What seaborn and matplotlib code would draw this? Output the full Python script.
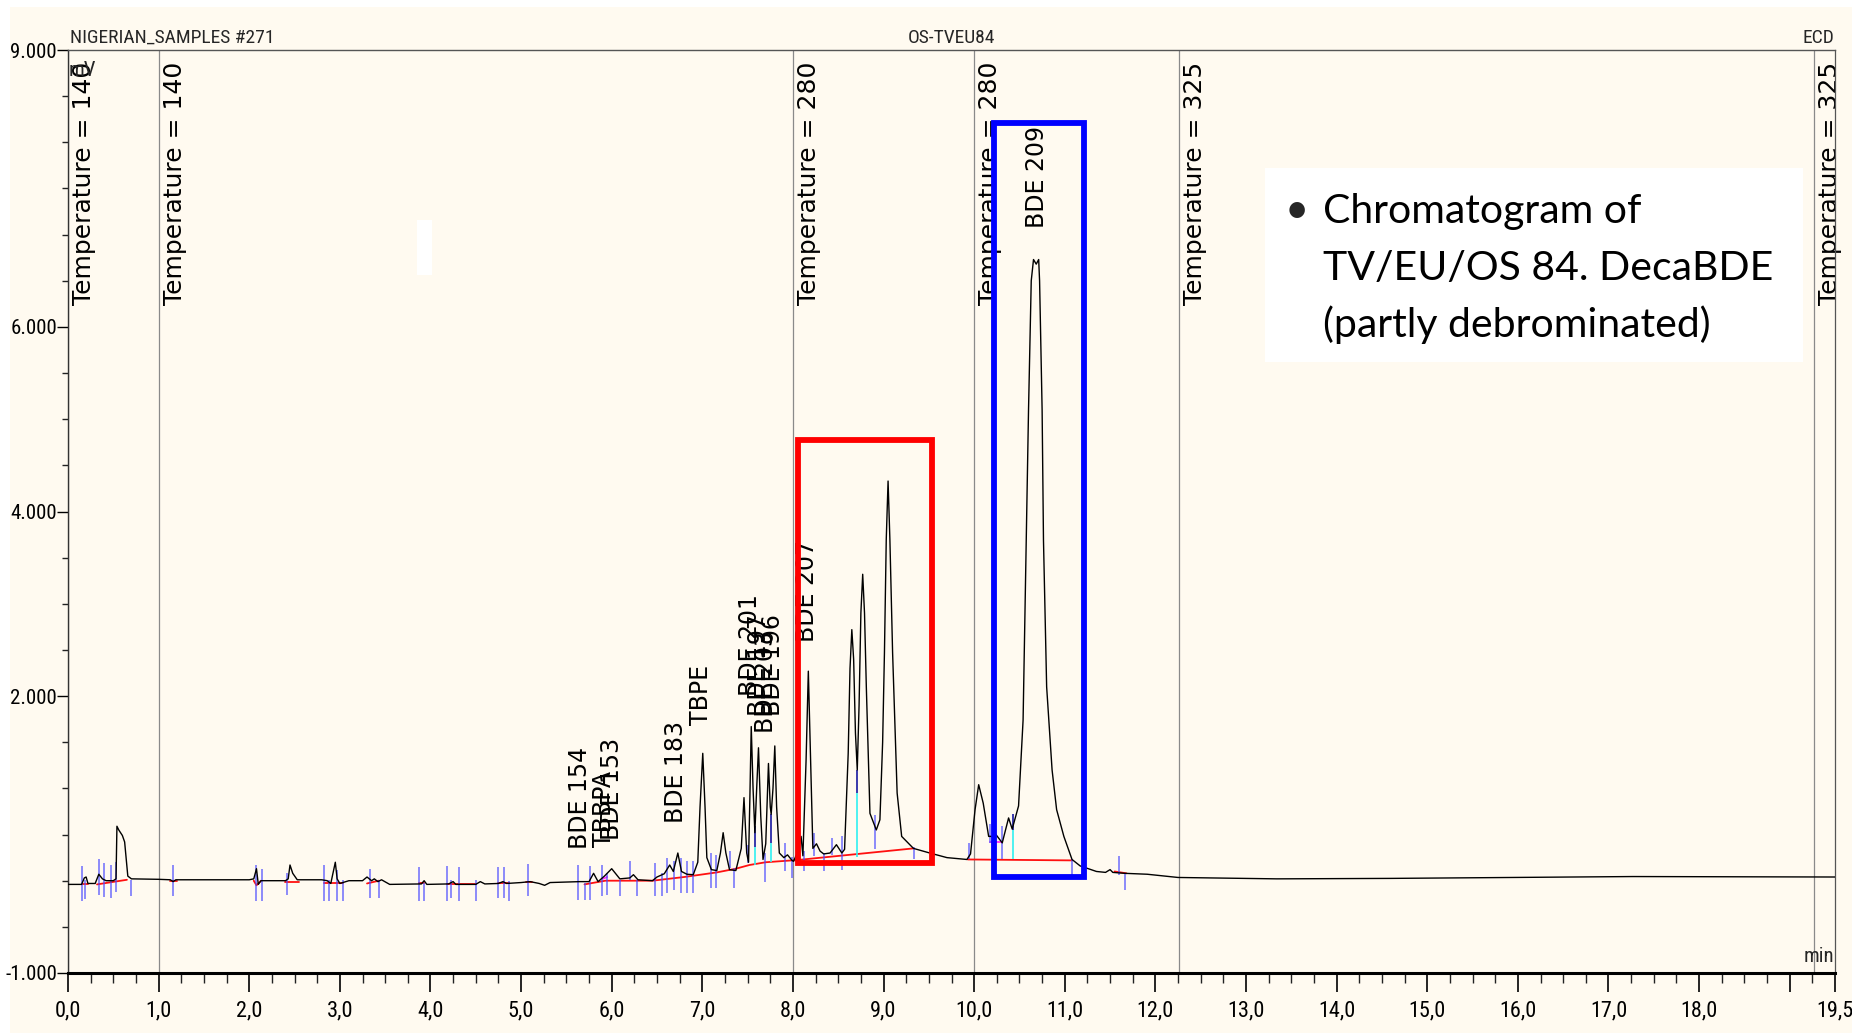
import matplotlib
matplotlib.use("Agg")
import matplotlib.pyplot as plt
from matplotlib.patches import Rectangle
from matplotlib.ticker import FixedLocator, MultipleLocator
import numpy as np
import pandas as pd
import seaborn as sns

# ---------------- data ----------------
trace_time = [
    0.00, 0.15, 0.18, 0.20, 0.22, 0.30, 0.34, 0.38, 0.42, 0.50,
    0.53, 0.54, 0.56, 0.60, 0.625, 0.66, 0.70, 1.00, 1.13, 1.16,
    1.19, 1.50, 2.00, 2.05, 2.08, 2.10, 2.13, 2.40, 2.43, 2.45,
    2.48, 2.53, 2.80, 2.86, 2.90, 2.95, 2.97, 3.00, 3.10, 3.25,
    3.30, 3.35, 3.38, 3.42, 3.46, 3.55, 3.90, 3.93, 3.96, 4.20,
    4.25, 4.28, 4.50, 4.55, 4.60, 4.75, 4.80, 4.84, 5.00, 5.10,
    5.20, 5.26, 5.32, 5.65, 5.75, 5.80, 5.85, 5.92, 6.00, 6.09,
    6.20, 6.24, 6.29, 6.45, 6.50, 6.58, 6.64, 6.68, 6.73, 6.77,
    6.83, 6.90, 6.95, 6.975, 7.005, 7.03, 7.05, 7.10, 7.16, 7.20,
    7.23, 7.26, 7.30, 7.37, 7.43, 7.46, 7.49, 7.51, 7.525, 7.54,
    7.56, 7.58, 7.60, 7.62, 7.645, 7.67, 7.70, 7.73, 7.75, 7.76,
    7.78, 7.80, 7.82, 7.85, 7.90, 7.94, 7.99, 8.006, 8.05, 8.09,
    8.11, 8.145, 8.17, 8.195, 8.22, 8.26, 8.30, 8.34, 8.41, 8.48,
    8.54, 8.57, 8.61, 8.63, 8.65, 8.67, 8.69, 8.71, 8.73, 8.75,
    8.77, 8.79, 8.81, 8.85, 8.92, 8.96, 8.99, 9.01, 9.03, 9.05,
    9.07, 9.10, 9.15, 9.20, 9.33, 9.51, 9.70, 9.92, 9.96, 10.01,
    10.05, 10.10, 10.16, 10.21, 10.24, 10.31, 10.38, 10.42, 10.49, 10.54,
    10.575, 10.60, 10.63, 10.655, 10.685, 10.712, 10.722, 10.75, 10.765, 10.80,
    10.86, 10.91, 10.99, 11.08, 11.17, 11.35, 11.45, 11.50, 11.53, 11.66,
    11.91, 12.25, 13.34, 14.60, 17.27, 19.50,
]
trace_signal = [
    -0.04, -0.04, 0.03, 0.04, -0.03, -0.03, 0.07, 0.02, 0.00, 0.00,
    0.02, 0.59, 0.55, 0.49, 0.42, 0.05, 0.02, 0.015, 0.01, -0.01,
    0.01, 0.01, 0.01, 0.02, 0.13, -0.04, 0.00, 0.00, 0.02, 0.17,
    0.08, 0.01, 0.01, 0.00, -0.03, 0.20, 0.02, -0.03, 0.00, 0.00,
    0.04, 0.00, 0.02, -0.01, 0.01, -0.04, -0.035, 0.00, -0.04, -0.035,
    -0.01, -0.04, -0.04, -0.01, -0.035, -0.03, -0.01, -0.03, -0.02, -0.01,
    -0.03, -0.05, -0.02, -0.01, -0.01, 0.08, -0.01, 0.05, 0.13, 0.02,
    0.03, 0.065, 0.01, 0.00, 0.04, 0.075, 0.17, 0.10, 0.30, 0.10,
    0.07, 0.065, 0.20, 0.80, 1.38, 0.80, 0.25, 0.12, 0.11, 0.30,
    0.52, 0.30, 0.12, 0.11, 0.35, 0.90, 0.30, 0.20, 0.90, 1.67,
    1.00, 0.52, 1.00, 1.44, 0.70, 0.23, 0.40, 1.27, 0.80, 0.72,
    1.00, 1.46, 0.80, 0.30, 0.25, 0.28, 0.22, 0.21, 0.30, 0.48,
    0.27, 1.30, 2.27, 1.30, 0.35, 0.40, 0.32, 0.29, 0.30, 0.39,
    0.30, 0.34, 1.38, 2.30, 2.72, 2.40, 1.60, 1.20, 1.90, 2.90,
    3.32, 2.90, 2.10, 0.73, 0.55, 0.66, 1.50, 2.47, 3.70, 4.33,
    3.70, 2.47, 0.95, 0.48, 0.35, 0.30, 0.25, 0.23, 0.29, 0.77,
    1.04, 0.84, 0.48, 0.48, 0.50, 0.41, 0.68, 0.56, 0.81, 1.74,
    3.69, 5.10, 6.50, 6.73, 6.68, 6.73, 6.50, 5.10, 3.69, 2.10,
    1.20, 0.77, 0.48, 0.23, 0.16, 0.10, 0.09, 0.12, 0.09, 0.08,
    0.07, 0.035, 0.02, 0.025, 0.045, 0.04,
]

# integration baselines (red) and small magenta ones
baseline_segments = [
    [(0.15, -0.04), (0.22, -0.04)],
    [(0.32, -0.04), (0.65, 0.01)],
    [(1.13, 0.00), (1.20, 0.00)],
    [(2.05, 0.00), (2.08, -0.05), (2.13, 0.00)],
    [(2.40, -0.01), (2.55, -0.01)],
    [(2.83, -0.03), (3.03, -0.03)],
    [(3.30, -0.03), (3.43, 0.00)],
    [(3.87, -0.03), (3.93, -0.03)],
    [(4.18, -0.04), (4.50, -0.04)],
    [(4.74, -0.03), (4.87, -0.03)],
    [(5.05, -0.01), (5.12, -0.01)],
    [(5.70, -0.04), (5.93, 0.00), (6.45, 0.00), (6.80, 0.04), (7.16, 0.09),
     (7.37, 0.13), (7.52, 0.17), (7.70, 0.20), (7.99, 0.22)],
    [(8.01, 0.22), (9.33, 0.35)],
    [(9.93, 0.23), (11.08, 0.22)],
    [(11.55, 0.10), (11.68, 0.08)],
]
magenta_segments = [
    [(5.90, 0.02), (5.95, 0.04)],
    [(8.03, 0.26), (8.06, 0.30)],
    [(10.18, 0.42), (10.31, 0.42)],
]

# peak delimiter marks (blue), valley drop marks (dark blue / cyan)
delim_time = [0.16, 0.19, 0.34, 0.40, 0.47, 0.53, 0.69, 1.16, 2.07, 2.14,
              2.42, 2.83, 2.88, 2.97, 3.03, 3.33, 3.43, 3.87, 3.93, 4.18,
              4.23, 4.32, 4.50, 4.74, 4.81, 4.87, 5.08, 5.63, 5.71, 5.76,
              5.89, 5.95, 6.09, 6.20, 6.28, 6.48, 6.55, 6.61, 6.69, 6.77,
              6.83, 6.90, 7.10, 7.15, 7.31, 7.35, 7.50, 7.69, 7.91, 7.99,
              8.12, 8.23, 8.34, 8.43, 8.54, 8.91, 9.34, 9.94, 10.17, 10.31,
              11.08, 11.60, 11.67]
delim_low = [-0.22, -0.20, -0.15, -0.18, -0.19, -0.12, -0.17, -0.17, -0.22, -0.22,
             -0.16, -0.22, -0.22, -0.22, -0.22, -0.19, -0.19, -0.22, -0.22, -0.22,
             -0.19, -0.22, -0.22, -0.19, -0.19, -0.22, -0.17, -0.21, -0.21, -0.21,
             -0.17, -0.15, -0.17, 0.01, -0.17, -0.17, -0.17, -0.13, -0.10, -0.13,
             -0.13, -0.13, -0.08, -0.08, 0.14, -0.08, 0.19, -0.01, 0.10, 0.03,
             0.10, 0.27, 0.10, 0.28, 0.12, 0.34, 0.23, 0.23, 0.41, 0.23,
             0.05, 0.065, -0.105]
delim_high = [0.16, 0.01, 0.23, 0.19, 0.17, 0.20, 0.01, 0.17, 0.17, 0.13,
              0.08, 0.17, 0.01, 0.12, 0.01, 0.13, 0.01, 0.15, -0.02, 0.16,
              0.01, 0.15, 0.01, 0.15, 0.15, 0.00, 0.18, 0.17, -0.03, 0.155,
              0.17, 0.08, 0.01, 0.21, 0.01, 0.19, 0.08, 0.245, 0.21, 0.245,
              0.21, 0.21, 0.30, 0.28, 0.32, 0.14, 0.39, 0.30, 0.41, 0.26,
              0.317, 0.517, 0.30, 0.46, 0.48, 0.715, 0.37, 0.41, 0.61, 0.59,
              0.23, 0.27, 0.087]
valley_time = [7.58, 7.76, 8.71, 10.43]
valley_split = [0.37, 0.41, 0.95, 0.55]
valley_low = [0.17, 0.20, 0.26, 0.23]
valley_high = [0.59, 0.72, 1.20, 0.72]

peak_names = ["BDE 154", "TBBPA", "BDE 153", "BDE 183", "TBPE", "BDE 201",
              "BDE 197", "BDE 203", "BDE 196", "BDE 207", "BDE 209"]
peak_label_time = [5.65, 5.91, 6.00, 6.71, 6.99, 7.53, 7.63, 7.70, 7.78, 8.15, 10.69]
peak_label_level = [0.34, 0.36, 0.44, 0.62, 1.69, 2.00, 1.78, 1.60, 1.78, 2.59, 7.07]

event_time = [0.0, 1.0, 8.0, 10.0, 12.26, 19.27]
event_text = ["Temperature = 140", "Temperature = 140", "Temperature = 280",
              "Temperature = 280", "Temperature = 325", "Temperature = 325"]

x_ticks = [0.0, 1.0, 2.0, 3.0, 4.0, 5.0, 6.0, 7.0, 8.0, 9.0, 10.0, 11.0,
           12.0, 13.0, 14.0, 15.0, 16.0, 17.0, 18.0, 19.0, 19.5]
x_tick_labels = ["0,0", "1,0", "2,0", "3,0", "4,0", "5,0", "6,0", "7,0", "8,0",
                 "9,0", "10,0", "11,0", "12,0", "13,0", "14,0", "15,0", "16,0",
                 "17,0", "18,0", "", "19,5"]
y_ticks = [9.0, 6.0, 4.0, 2.0, -1.0]
y_tick_labels = ["9.000", "6.000", "4.000", "2.000", "-1.000"]

red_box = (8.06, 0.195, 9.54, 4.77)     # t0, v0, t1, v1
blue_box = (10.22, 0.04, 11.21, 8.21)

note_lines = ["Chromatogram of", "TV/EU/OS 84. DecaBDE", "(partly debrominated)"]

# ---------------- styling ----------------
sns.set_theme(style="white")
plt.rcParams["font.family"] = ["DejaVu Sans"]
NARROW = ["Liberation Sans Narrow", "Roboto Condensed", "Noto Sans Condensed",
          "Open Sans Condensed", "DejaVu Sans Condensed", "Liberation Sans"]
NARROW_KW = dict(family=NARROW, fontstretch="condensed")
BG = "#FFFAF0"
W, H = 1852, 1035

fig = plt.figure(figsize=(W / 100, H / 100), dpi=100, facecolor="white")
fig.add_artist(Rectangle((10 / W, 2 / H), (W - 10) / W, (H - 9) / H,
                         transform=fig.transFigure, facecolor=BG,
                         edgecolor="none", zorder=-10))

ax = fig.add_axes([68 / W, 1 - 973 / H, (1835 - 68) / W, (973 - 50) / H])
ax.set_facecolor(BG)

# event lines
for t in event_time:
    ax.axvline(t, color="#8a8a8a", lw=0.9, zorder=1)
for t, s in zip(event_time, event_text):
    ax.annotate(s, xy=(t, 9.0), xytext=(16, -12), textcoords="offset pixels",
                rotation=90, ha="center", va="top", fontsize=18,
                family="DejaVu Sans", color="black", zorder=2)

# baselines
for seg in baseline_segments:
    ts, vs = zip(*seg)
    ax.plot(ts, vs, color="#ff1010", lw=1.3, zorder=2)
for seg in magenta_segments:
    ts, vs = zip(*seg)
    ax.plot(ts, vs, color="#ff30ff", lw=1.3, zorder=2)

# delimiters
ax.vlines(delim_time, delim_low, delim_high, colors="#4a4aff", lw=1.1,
          alpha=0.8, zorder=2.5)
ax.vlines(valley_time, valley_low, valley_split, colors="#30f0f0", lw=1.2, zorder=2.5)
ax.vlines(valley_time, valley_split, valley_high, colors="#1818a0", lw=1.2, zorder=2.5)

# chromatogram trace
df = pd.DataFrame({"time": trace_time, "signal": trace_signal})
sns.lineplot(data=df, x="time", y="signal", ax=ax, color="black", lw=1.0,
             estimator=None, sort=False, zorder=3)

# peak labels
for name, t, v in zip(peak_names, peak_label_time, peak_label_level):
    ax.text(t, v, name, rotation=90, ha="center", va="bottom", fontsize=17,
            family="DejaVu Sans", color="black", zorder=4)

# highlight boxes
for box, col in ((red_box, "#ff0000"), (blue_box, "#0000ff")):
    t0, v0, t1, v1 = box
    ax.add_patch(Rectangle((t0, v0), t1 - t0, v1 - v0, fill=False,
                           edgecolor=col, lw=4.2, zorder=5))

# axes
ax.set_xlim(0, 19.5)
ax.set_ylim(-1, 9)
ax.set_xlabel("")
ax.set_ylabel("")
ax.xaxis.set_major_locator(FixedLocator(x_ticks))
ax.set_xticklabels(x_tick_labels, fontsize=16, **NARROW_KW)
ax.xaxis.set_minor_locator(MultipleLocator(0.25))
ax.yaxis.set_major_locator(FixedLocator(y_ticks))
ax.set_yticklabels(y_tick_labels, fontsize=15, **NARROW_KW)
ax.yaxis.set_minor_locator(MultipleLocator(0.5))
ax.tick_params(axis="x", which="major", direction="out", length=14, width=1.2,
               pad=6, colors="black", bottom=True)
ax.tick_params(axis="x", which="minor", direction="out", length=7, width=1.0,
               colors="#222222", bottom=True)
ax.tick_params(axis="y", which="major", direction="out", length=8, width=1.0,
               pad=0, colors="black", left=True)
ax.tick_params(axis="y", which="minor", direction="out", length=4, width=1.0,
               colors="#222222", left=True)
for side, lw, col in (("bottom", 2.2, "black"), ("left", 1.0, "#333333"),
                      ("top", 1.0, "#555555"), ("right", 0.9, "#555555")):
    ax.spines[side].set_visible(True)
    ax.spines[side].set_linewidth(lw)
    ax.spines[side].set_color(col)

ax.annotate("mV", xy=(0, 1), xycoords="axes fraction", xytext=(1, -11),
            textcoords="offset pixels", ha="left", va="top", fontsize=15,
            zorder=4, **NARROW_KW)
ax.annotate("min", xy=(1, 0), xycoords="axes fraction", xytext=(-1, 7),
            textcoords="offset pixels", ha="right", va="bottom", fontsize=15,
            zorder=4, **NARROW_KW)

# header texts
fig.text(70 / W, 1 - 43 / H, "NIGERIAN_SAMPLES #271", ha="left", va="baseline",
         fontsize=14, **NARROW_KW)
fig.text(951 / W, 1 - 43 / H, "OS-TVEU84", ha="center", va="baseline",
         fontsize=14, **NARROW_KW)
fig.text(1834 / W, 1 - 43 / H, "ECD", ha="right", va="baseline",
         fontsize=14, **NARROW_KW)

# white note box and small white artefact
fig.add_artist(Rectangle((1265 / W, 1 - 362 / H), 538 / W, 194 / H,
                         transform=fig.transFigure, facecolor="white",
                         edgecolor="none", zorder=6))
fig.add_artist(Rectangle((417 / W, 1 - 275 / H), 15 / W, 55 / H,
                         transform=fig.transFigure, facecolor="white",
                         edgecolor="none", zorder=6))
fig.text(1297 / W, 1 - 223 / H, "\u2022", ha="center", va="baseline",
         fontsize=30, family=["Lato", "DejaVu Sans"], zorder=7)
for i, line in enumerate(note_lines):
    fig.text(1323 / W, 1 - (223 + 57 * i) / H, line, ha="left", va="baseline",
             fontsize=29.5, family=["Lato", "DejaVu Sans"], color="black", zorder=7)

fig.savefig("out.png", dpi=100, facecolor="white")
